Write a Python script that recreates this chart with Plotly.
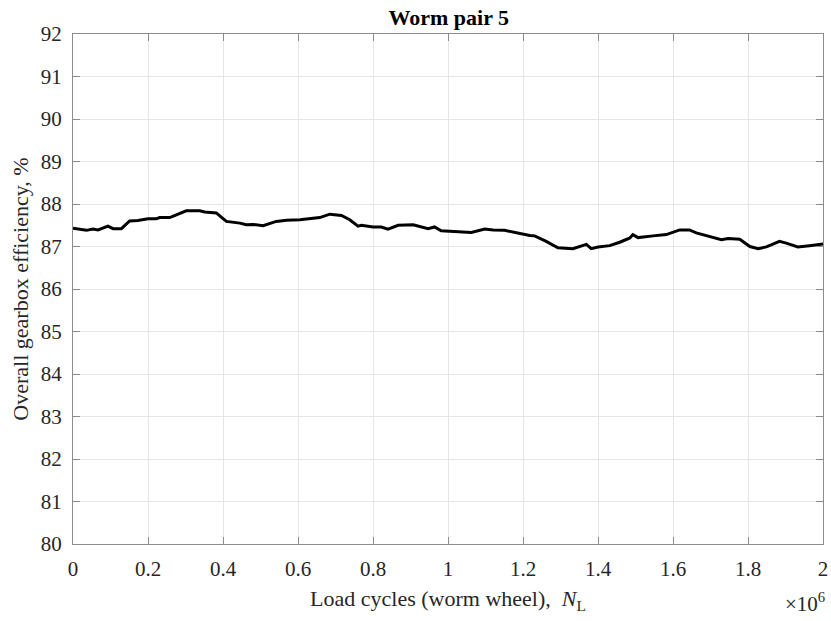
import plotly.graph_objects as go

# load cycles in millions (x 10^6)
load_cycles = [0.0, 0.036, 0.053, 0.067, 0.093, 0.107, 0.129, 0.151, 0.173, 0.2,
               0.222, 0.231, 0.258, 0.276, 0.302, 0.338, 0.351, 0.382, 0.409, 0.445,
               0.462, 0.48, 0.507, 0.542, 0.569, 0.605, 0.631, 0.658, 0.685, 0.716,
               0.738, 0.76, 0.769, 0.8, 0.822, 0.84, 0.867, 0.907, 0.947, 0.964,
               0.982, 1.027, 1.062, 1.098, 1.12, 1.151, 1.182, 1.218, 1.231, 1.262,
               1.293, 1.333, 1.369, 1.382, 1.4, 1.431, 1.458, 1.485, 1.493, 1.507,
               1.547, 1.582, 1.618, 1.644, 1.662, 1.707, 1.729, 1.747, 1.778, 1.805,
               1.827, 1.849, 1.867, 1.884, 1.902, 1.933, 1.964, 2.0]

efficiency = [87.43, 87.38, 87.41, 87.39, 87.48, 87.42, 87.42, 87.60, 87.61, 87.65,
              87.65, 87.68, 87.68, 87.75, 87.84, 87.84, 87.81, 87.79, 87.59, 87.55,
              87.51, 87.52, 87.49, 87.59, 87.62, 87.63, 87.66, 87.68, 87.76, 87.73,
              87.63, 87.48, 87.50, 87.46, 87.46, 87.41, 87.50, 87.51, 87.42, 87.46,
              87.37, 87.34, 87.33, 87.41, 87.39, 87.38, 87.32, 87.26, 87.25, 87.12,
              86.97, 86.95, 87.05, 86.95, 86.99, 87.02, 87.10, 87.20, 87.28, 87.21,
              87.25, 87.28, 87.39, 87.39, 87.32, 87.22, 87.16, 87.19, 87.17, 87.00,
              86.95, 86.99, 87.05, 87.12, 87.08, 86.99, 87.02, 87.06]

x_ticks = [0, 0.2, 0.4, 0.6, 0.8, 1, 1.2, 1.4, 1.6, 1.8, 2]
x_ticklabels = ['0', '0.2', '0.4', '0.6', '0.8', '1', '1.2', '1.4', '1.6', '1.8', '2']
y_ticks = list(range(80, 93))

fig = go.Figure()

fig.add_trace(go.Scatter(
    x=load_cycles,
    y=efficiency,
    mode='lines',
    line=dict(color='black', width=3),
    showlegend=False,
))

axis_style = dict(
    showline=True,
    linecolor='#8c8c8c',
    linewidth=1,
    mirror='all',
    ticks='inside',
    ticklen=7,
    tickcolor='#8c8c8c',
    showgrid=True,
    gridcolor='#e6e6e6',
    gridwidth=1,
    zeroline=False,
    automargin=False,
    tickfont=dict(family='Liberation Serif', size=21, color='#262626'),
)

fig.update_xaxes(
    range=[0, 2],
    tickvals=x_ticks,
    ticktext=x_ticklabels,
    ticklabelstandoff=6,
    title=dict(
        text='Load cycles (worm wheel),  <i>N</i><sub>L</sub>',
        font=dict(family='Liberation Serif', size=22, color='#262626'),
        standoff=10,
    ),
    **axis_style,
)
fig.update_yaxes(
    range=[80, 92],
    tickvals=y_ticks,
    ticklabelstandoff=6,
    title=dict(
        text='Overall gearbox efficiency, %',
        font=dict(family='Liberation Serif', size=22, color='#262626'),
        standoff=6,
    ),
    **axis_style,
)

fig.add_annotation(
    x=1.005, xref='paper', xanchor='right',
    y=-0.085, yref='paper', yanchor='top',
    text='×10<sup>6</sup>',
    showarrow=False,
    font=dict(family='Liberation Serif', size=21, color='#262626'),
)

fig.update_layout(
    width=831,
    height=621,
    title=dict(
        text='<b>Worm pair 5</b>',
        x=0.54, xanchor='center',
        y=0.985, yanchor='top',
        font=dict(family='Liberation Serif', size=22, color='black'),
    ),
    margin=dict(l=73, r=8, t=34, b=77),
    plot_bgcolor='white',
    paper_bgcolor='white',
)

# drop the default page margin so the figure fills the window exactly
fig.write_html("out.html", config={'displayModeBar': False},
               post_script="document.body.style.margin = '0';")
